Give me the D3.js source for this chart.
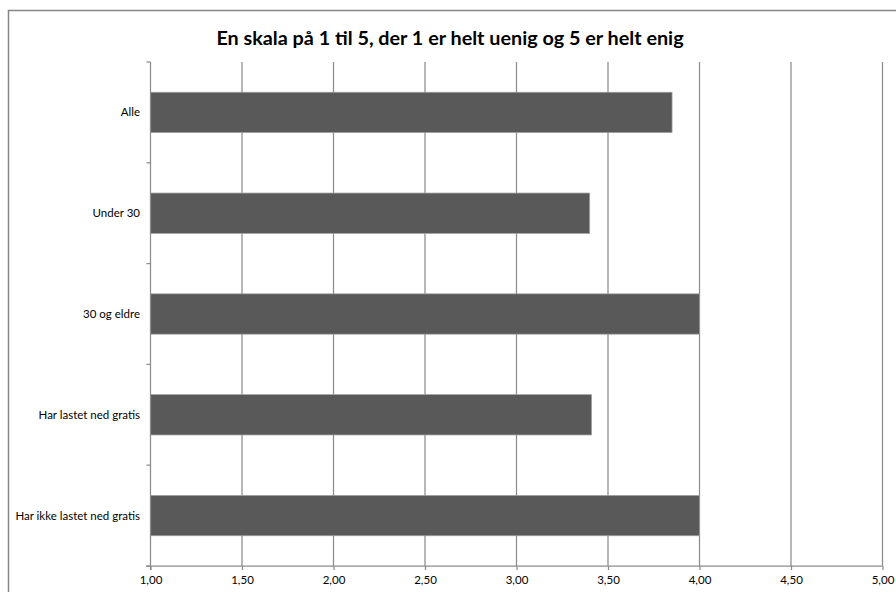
<!DOCTYPE html>
<html>
<head>
<meta charset="utf-8">
<script src="https://cdn.jsdelivr.net/npm/d3@7"></script>
<style>
  html, body { margin: 0; padding: 0; background: #fff; }
  svg { display: block; }
</style>
</head>
<body>
<svg id="chart" width="896" height="592"></svg>
<script>
// Average score per group on a 1–5 agreement scale
const categories = ["Alle", "Under 30", "30 og eldre", "Har lastet ned gratis", "Har ikke lastet ned gratis"];
const values = [3.85, 3.40, 4.00, 3.41, 4.00];
const tickValues = [1, 1.5, 2, 2.5, 3, 3.5, 4, 4.5, 5];
const title = "En skala på 1 til 5, der 1 er helt uenig og 5 er helt enig";

const font = "Lato, 'Open Sans', sans-serif";

const svg = d3.select("#chart");

// Outer chart frame
svg.append("rect")
  .attr("x", 8.5).attr("y", 10.5)
  .attr("width", 900).attr("height", 600)
  .attr("fill", "#fff")
  .attr("stroke", "#868686").attr("stroke-width", 1.5);

svg.append("text")
  .attr("x", 450).attr("y", 45)
  .attr("text-anchor", "middle")
  .attr("font-family", font)
  .attr("font-weight", "bold")
  .attr("font-size", 19.8)
  .attr("fill", "#000")
  .text(title);

const x = d3.scaleLinear().domain([1, 5]).range([150.5, 882.5]);
const y = d3.scaleBand().domain(categories).range([62, 566]).paddingInner(0).paddingOuter(0);

// Vertical gridlines
svg.append("g")
  .selectAll("line")
  .data(tickValues.slice(1))
  .join("line")
  .attr("x1", d => x(d)).attr("x2", d => x(d))
  .attr("y1", 62).attr("y2", 566)
  .attr("stroke", "#8c8c8c").attr("stroke-width", 1.25);

// Bars
const barH = y.bandwidth() * 0.4;
svg.append("g")
  .selectAll("rect")
  .data(categories.map((c, i) => ({ c, v: values[i] })))
  .join("rect")
  .attr("x", x(1))
  .attr("y", d => y(d.c) + (y.bandwidth() - barH) / 2)
  .attr("width", d => x(d.v) - x(1))
  .attr("height", barH)
  .attr("fill", "#595959")
  .attr("stroke", "#a0a0a0").attr("stroke-width", 0.75);

// X axis
const xAxis = svg.append("g")
  .attr("transform", "translate(0,566)")
  .call(d3.axisBottom(x).tickValues(tickValues).tickSize(4).tickPadding(6)
    .tickFormat(d => d3.format(".2f")(d).replace(".", ",")));
xAxis.select(".domain").attr("d", "M146,0H882.5").attr("stroke", "#8c8c8c").attr("stroke-width", 1.25);
xAxis.selectAll(".tick line").attr("stroke", "#8c8c8c").attr("stroke-width", 1.25);
xAxis.selectAll(".tick text")
  .attr("font-family", font).attr("font-size", 11.5).attr("fill", "#000");

// Y axis: ticks at category boundaries, labels at band centres
const yAxisG = svg.append("g");
yAxisG.append("line")
  .attr("x1", x(1)).attr("x2", x(1))
  .attr("y1", 62).attr("y2", 570)
  .attr("stroke", "#8c8c8c").attr("stroke-width", 1.25);
const bounds = categories.map(c => y(c)).concat([y.range()[1]]);
yAxisG.selectAll("line.b")
  .data(bounds)
  .join("line").attr("class", "b")
  .attr("x1", x(1) - 4).attr("x2", x(1))
  .attr("y1", d => d).attr("y2", d => d)
  .attr("stroke", "#8c8c8c").attr("stroke-width", 1.25);
yAxisG.selectAll("text")
  .data(categories)
  .join("text")
  .attr("x", 140)
  .attr("y", d => y(d) + y.bandwidth() / 2)
  .attr("dy", "0.35em")
  .attr("text-anchor", "end")
  .attr("font-family", font)
  .attr("font-size", 11.5)
  .attr("fill", "#000")
  .text(d => d);
</script>
</body>
</html>
